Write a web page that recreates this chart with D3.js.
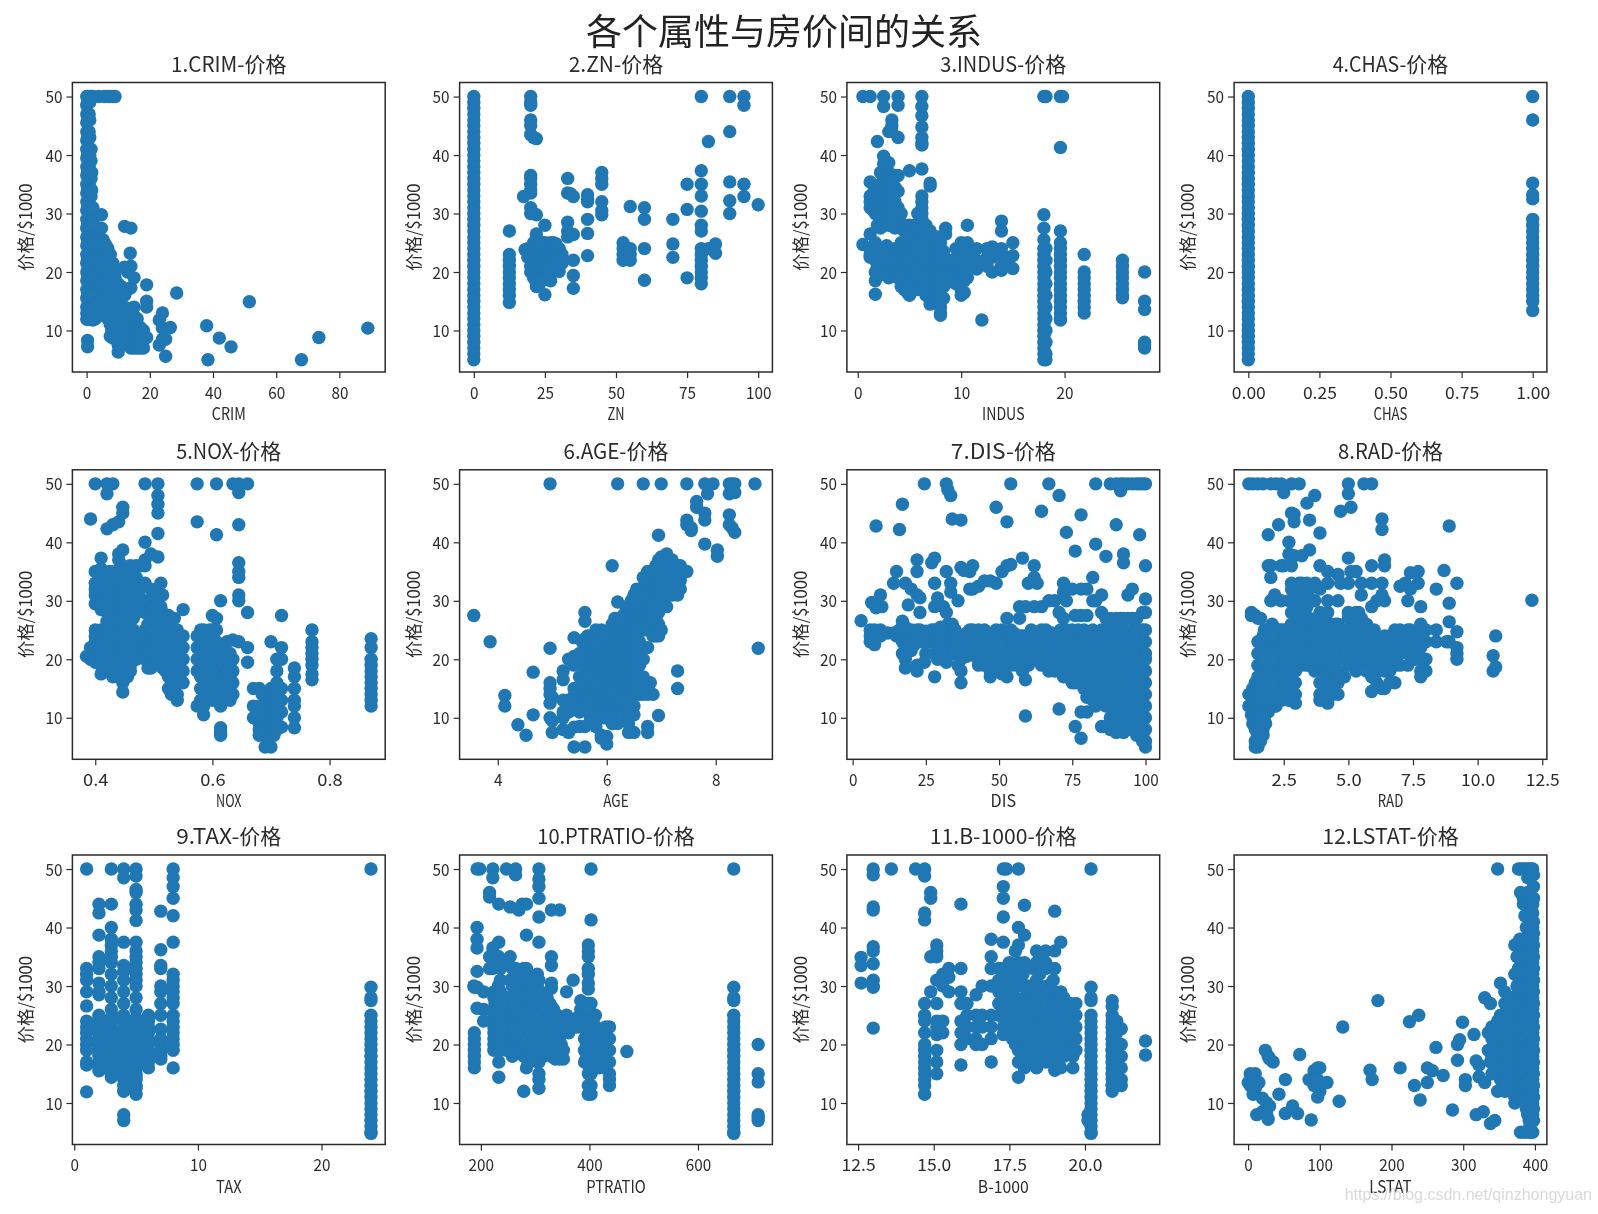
<!DOCTYPE html>
<html><head><meta charset="utf-8">
<script src="https://cdnjs.cloudflare.com/ajax/libs/d3/7.8.5/d3.min.js"></script>
<style>html,body{margin:0;padding:0;background:#fff}svg{display:block;filter:blur(.55px)}</style>
</head><body><svg id="c" width="1598" height="1214"></svg>
<script>
// Each row: x, then every price read at that x
const crimRows=[[0.05,11.9,13,14,15.5,17,18.5,20,21.5,23,24.5,26,27.5,29,30.5,32,33.5,35,36.5,38,39.5,41,42.5,44,45.5,47,48.5,50],[0.3,7.2,8.3,13,16,19,22,25,28,31,34,37,40,43,46,49,50],[0.8,11.9,14,17,20,23,26,29,32,35,38,41,44,47,50],[1.4,12,15,18,21,24,27,30,33,36,39,41,50],[2,11.8,14,17,20,23,26,29,31,50],[2.8,12,15,18,21,24,27],[3.3,13.5,16.5,19.5,22.5,25.5],[3.8,13,16,19,22,25,50],[4.3,14.5,17.5,20.5,23.5,25.5],[4.7,13.5,16,19,22,25.5,27.5,29.8],[5.2,14,17,20,23,25.5],[5.6,12.5,15,18,21,25,50],[6.2,13.5,16,19,22,24.5],[6.7,12,14,17,20,24,50],[7.2,13,15.5,18.5,21.5],[7.5,9,11,14,17,20,23,50],[8.3,8.7,11,13,16,19,21.5,50],[9,50,8.7,11,14,17,19],[9.6,10,12.5,15.5,18],[10,6.3,7.5,9.5,12,15,18],[11,7.5,9,11,13.5,16,17.5],[12,27.8,20.8,8,10,12,14,16],[13,7.5,9.5,11.5,13.5,17,20],[14,7,9,11,13,21,17.3,27.5],[13.8,23.2],[15,7,8.5,10.5,12.5,14,19],[16,7,8,10,12],[17,7,8.3,10.5],[18,7,8.3,10],[19,8.8,15,14,17.8],[23,7.5,11.8],[24,13,8.5,10.4],[25,5.6,8.5],[26.5,10.5],[28.5,16.4],[38,10.8],[38.4,5],[42,8.7],[45.7,7.2],[51.5,14.9],[68,5],[73.5,8.8],[89,10.4]];
const znRows=[[0,5,6,7,8,9,10,11,12,13,14,15,16,17,18,19,20,21,22,23,24,25,26,27,28,29,30,31,32,33,34,35,36,37,38,39,40,41,42,43,44,45,46,47,48,49,50],[12.5,14.8,16,17,18,19,20,21,22,23,27],[17.5,32.9],[18,23.8],[19,24,22.5],[20,50,49,48.5,46,45,43.5,36.5,36,35,34,33.5,31,30,24,21,20],[21,43,30,25,24,22.5,22,20,19],[22,42.8,29.8,26.5,25,24,23,21,19.5,18,17.5],[23,25,23.5,22,20.5,19,17.8],[24,25,23,21,19],[25,28,25,24,23,22,20,19,18.7,16.1],[26,24,22.5,20.5],[27,25,23.5,21.5,20,18.5],[28,25,24,23,22],[29,24.8,23,21.5],[30,24,23,22,20.1],[31,23,21.5],[33,36,33.5,28.5,27,26],[34,33.4],[35,32.9,26.4,22,19.4,17.2],[40,33.2,32.4,32,29,26.6,22.8],[45,37,36,35,32,30.5,29.8],[52.5,25,24,23,22],[55,31.2,24,23,22],[60,31,29,24,18.6],[70,29,24.8,22.5],[75,35,30.7,19],[80,50,37.3,35,33,30.4,28,27,24,23,22,21,20,19,18],[82.5,42.3,24],[85,24.8,23.2],[90,50,44,35.4,32.2,30],[95,50,48.5,35,32.9],[100,31.5]];
const indusRows=[[0.5,50,24.7],[1.2,50,35.4,33,32,31,26.5,24,23,22.5],[1.5,33.5,32.5,30.5],[1.7,34,31,30,25,22,20,18.5,16.2],[1.9,42.3,33,32,30,28,21],[2.2,37,35,33.5,31.5,29.5,27.5,23.5,21.5,19.5],[2.5,50,48.3,39.8,38.5,36,35,34,33,32,31,30,29,22],[2.8,36.5,34.5,32.5,30.5,28.5,24.5,20.5],[3,44,38.7,37,36,35,34,33,32,31,30,29,28,24,22,20,19],[3.3,46,45,44,36,33,31,30,28,23],[3.6,36.5,34.5,32,29.5,27.5,24,21.5,19.5],[3.9,50,48.5,43,36.5,33.8,31,29,24,22,19],[4.2,30,28,25,23.5,21.5,19.5,17.5],[4.5,28,27,24,22,20,18,17],[4.8,26,24.5,22.5,20.5,18.5,16.5],[5,37.3,28,26,24,22,20,18,16],[5.3,25.5,23.5,21.5,19.5,17.5],[5.5,28,24,22,20,18,17],[5.8,30,27,25,23,21,19,17],[6.2,50,48.3,46.7,44.8,43,42,41.7,37.6,33,32,31,30,29,27,25,23,21,19,17],[6.6,28,26,24,22,20,18,16],[7,35.2,34.7,27,25,23,21,19,17,14.5],[7.3,24.5,22.5,20.5,18.5,15.5],[7.5,26,24,22,20,18,16],[7.8,26,24,22,20,18,16],[8,25,23,21,19,17,15,14,13,12.6],[8.3,23.5,21.5,19.5,17.5,15.5],[8.5,27.5,26.5,22,20,18],[9,22,20,19],[9.5,24,22,20,18],[10,25,24,23,22,21,20,19,18,17,16],[10.3,24.5,22.5,20.5,18.5,16.5],[10.6,28,25,24,23,22,21,19],[11.5,24,22,20.5],[12.5,24,22.5,21],[12,11.8],[13,24.3,22.5,20],[13.9,28.7,27,24,23,21,20.3],[14.5,22.5,21.5],[15,25,22.8,20.6],[18,50,25.5,24,23,22,21,20,19,18,17,16,15,14,13,12,11,10,9,8,7,6,5,27.5,29.8],[18.2,50,24,22,20,18,16,14,12,10,8,6,5],[19.6,50,41.3,27,25,24,23,22,21,20,19,18,17,16,15,14,13,12,11.8],[19.8,50],[21.9,23,20,19,18,17,16,15,14,13],[25.6,22,21,20,19,18,17,16,15.6],[27.74,20,15,13.6,8,7.5,7]];
const chasRows=[[0,5,6,7,8,9,10,11,12,13,14,15,16,17,18,19,20,21,22,23,24,25,26,27,28,29,30,31,32,33,34,35,36,37,38,39,40,41,42,43,44,45,46,47,48,49,50],[1,50,46,35.2,33.2,32.5,29,28,27,26,25,24,23,22,21,20,19,18,17,16,15,13.4]];
const noxRows=[[0.385,20.5],[0.392,44,22,20],[0.4,50,35,33,32,31,29.5,25,24,23,22,21,20,19.5],[0.41,37.3,35.5,34,32,31,30,28.5,25,24,23,22,21,20,19,17.5],[0.42,50,48.3,42.3,33.5,32,30,28,26.5,25,24,23,22,21,20,19],[0.43,50,43,33,30,28,27,25,23,21,19,17],[0.435,35,32,29,26,24,22,20,18],[0.44,43.5,38,37,35,33,31,29,27,25,23,21,19,17],[0.447,46,45,38.7,36,32,30,28,26,24,22,20,18,16,14.4],[0.455,34,31,29,27,25,23,21,19,17],[0.46,36,33,29,25,23,21,19,18],[0.47,36,34,32,29,28,24,22,20],[0.478,36,33,29],[0.485,50,40,37,36,33,30,28,25,23,21,20],[0.49,26,24,22,20,18.5],[0.495,38,32,30,28,24,22,20,18.5],[0.5,31,29,27,25,23,21,19],[0.507,50,48,46.5,45,41.5,37.5,32,30,28,26,24,22,20],[0.515,31,28,24,22,20,18.5],[0.52,26,24,22,20,18],[0.525,27.5,25,23,21,19,17,15],[0.535,27,25,23,21,19,17,16,15,14],[0.54,25,23,20,18,16,14,13],[0.55,28.5,24,22,20,18,16],[0.574,50,43.5,24,22,20,18,12],[0.58,25,23,21,19,17,15,13],[0.585,25,23,21,19,17,15,13,12,10.5],[0.593,24,22,20,18,16,14],[0.6,27.5,25,23,21,19,17,15,13],[0.607,50,41.3,27,25,23,21,19,17,14],[0.614,30,16,14,12,8.3,7.5,7,20,18],[0.62,22,19,17,15,13],[0.625,20,18,16,14,23],[0.635,50,23.3,20,18,16,14],[0.645,50,48.5,43,36.5,35,34,31,30,23],[0.66,50,28,22,19.5],[0.67,15,12,10],[0.68,15,12,11,9,8,7],[0.685,14,12,10,8],[0.69,14,11,9,8,7,5],[0.7,23,15,13,11,9,7,5],[0.705,15,13,11,9,7],[0.71,18,20,16,14,12,10,8],[0.718,27.5,22,20,15,13,11,8.4],[0.74,18.5,17,15,13,12,10,8.3],[0.77,25,23,22,21,20,19,17.5,16.5],[0.871,23.5,22,20,19,18,17,16,15,14,13,12]];
const rmRows=[[3.56,27.5],[3.86,23],[4.13,13.8,12],[4.37,8.8],[4.52,7],[4.65,17.8,10.5],[4.96,50,21.9,16,15,14,12.5,10],[5,13.5,9.5,7.5],[5.2,18,16.5,13,11,10,8],[5.3,20,13,11,7.5],[5.4,23.7,20.5,19,15,13.8,12,8.4,5],[5.5,21,20,17,15,13,11,8.5],[5.55,23,19,16,14,12],[5.6,28,26.5,23.5,20,18,16,14,12,8.5,5],[5.65,24,22,19,17,15,13],[5.7,23.5,22,20,18,16,14,12,10],[5.75,24,21,19,17,15,13,11],[5.8,25,23,21,19,17,15,13,8.5],[5.85,24,22,20,18,16,14,12,10],[5.9,25,23,21,19,17,15,13,11,7,6.5],[5.95,24,22,20,18,16,14,12,10],[6,24.5,22.5,20.5,18.5,16.5,14.5,12.5,10,6.8,5.5],[6.05,25,23,21,19,17,15,13,11],[6.1,36,26,24,22,20,18,16,14,12,9],[6.15,27,25,23,21,19,17,15,13,11],[6.2,50,29.8,26,24,22,20,18,16,14,12,9],[6.25,27,25,23,21,19,17,15,13,11],[6.3,27.5,25,23,21,19,17,15,13,10.5],[6.35,29,27,25,23,21,19,17,15,13],[6.4,29,26,24,22,20,18,16,13,11,9,7.5],[6.45,30,28,26,24,22,20,18,16,14],[6.5,31,28,26,24,22,20,18,16,14,12,10.5,7.5],[6.55,32,29,27,25,23,21,19,17,15],[6.6,32,30,27,25,23,21,19,17,14],[6.67,50,34,31,29,27,25,22,20,17,15,14],[6.75,35,33,31,29,27,25,22,15,14,8.5,7.5],[6.8,32,30,28,26,16],[6.85,33,31,29,27,25,24,14],[6.9,36,34,32,30,27,24],[6.95,41.2,37,35,33,31,28,26,24,10.4],[7,50,37.5,34,31,29,25],[7.05,37,35,33,30],[7.1,38,36,34,32,29],[7.2,37,35,33,31],[7.3,36,34,31,18,15],[7.35,33.5,36,32],[7.47,50,43.8,43,35],[7.55,42.5,42],[7.65,46,47],[7.8,50,45,43.8,39.7],[7.85,48.3],[7.95,50],[8.03,37.6,38.7],[8.25,50,48.3,44.7,43],[8.3,50,49,42.5],[8.35,50,48.5,41.7],[8.72,50],[8.78,21.9]];
const ageRows=[[2.9,26.6],[6,25,24,23],[6.5,29.7],[7.5,25,24,23,22.5],[8,42.8,28.8,24],[9.5,31,25,24],[10,29],[12,24.5],[14,33,24.5],[15,35,24],[16,42.2,25],[17,46.5,26.5,25,23,21],[18,33,25.5,24,22,20,18.5],[19,29.3,24,22],[20,32,25,23,21.5],[22,37,35,31,25,24,19,18],[23,30.5,28,25,23],[24.5,50,19.5],[27,36.5,25,23],[28,37.3,33,29,25,23,21,17],[29,30.5,25,23,20],[31,29,25,24,22,20],[32,50,35,28,24,22,19.5],[32.5,49,26],[33.5,48,33,31.5,24,21],[34,44,26,23,21],[36,30,24,22,19],[37,43.8,35.7,24,22,20,18,16],[38,35.2,23,21],[40,35,32,25,23,21],[41,36,32,25,23,21],[43,32.5,25,23,21,19],[45,33.4,25,23,21,19],[47,33.4,24,22,20,18,17],[49,46,33,25,23,21,19],[51,35,25,23,21,17.5],[52.7,43.5,36,27,24,22,20,17],[54,50,36.2,25,23,21,19],[57,27,29,24,22,20],[58,37.3,24,22,20,18],[59,10.3,29,24,22,20,16.5],[60,33,23,21,19],[62,36,34,29,24,22,20],[63,33,24,22,20],[64.5,45.3,29,25,23,21,19],[67,50,30,24,22,20,18],[69,30,24,22,20,18],[70.5,48,11.5,28,24,22,20,18],[72,33,31.5,27,24,22,20,17],[73,41.7,30,25,23,21,19,17],[75,32,25,23,21,19,16],[76,38.5,8.5,27.5,24,22,20,16],[78,44.7,6.5,32,27.5,24,22,20,18,16,11],[80,32,27.5,24,22,20,18,16,13.5,11],[82,34,30,25,23,21,19,17,15,13],[83,50,39.7,30,24,22,20,18,16,14,12],[85,31,28,25,23,21,19,17,15,13,8.5],[86.5,37.6,27,24,22,20,18,16,14,12,8.5],[88,50,27,25,23,21,19,17,15,13,10,8],[90,50,43,27,25,23,21,19,17,15,13,11,9,7.5],[91.5,48.8,50,27,24,22,20,18,16,14,12,10,8],[92.5,50,38,36.5,27,25,23,21,19,17,15,13,11,9,7.5],[94,50,31,27,24,22,20,18,16,14,12,10,8],[95.5,50,32,27,25,23,21,19,17,15,13,11,9],[97,50,27,24,22,20,18,16,14,12,10,8,7],[98,41.3,50,25,23,21,19,17,15,13,11,9,7],[99,50,28,25,23,21,19,17,15,13,11,9,7,6],[100,50,36,30.3,28,25,23,21,20,18,16,14,12,10,8,6,5]];
const disRows=[[1.15,50,14,12],[1.25,28,27.5,14,12,10.5],[1.3,50,15,13,11,9],[1.4,27.5,16,14,12,10,8,6,5],[1.5,50,27,23,21,19,17,15,13,11,9,7,5],[1.6,27,23,21,19,17,15,13,11,9,7,6],[1.7,50,24,22,20,18,16,14,12,10,8,7],[1.8,25,23,21,19,17,15,13,11,9],[1.9,41.3,36,23,21,19,17,15,13,11],[2,50,36,34,30,25,23,21,19,17,15,13,12],[2.15,31,30.3,25,23,21,19,17,15,13,12],[2.2,50,25,22,20,18,16,14,12],[2.3,43,25,23,21,19,17,15,13],[2.4,50,36,30,25,23,21,19,17,15,13],[2.5,48.5,36,25,23,21,19,17,15,14],[2.7,40,38,30,25,23,21,19,17,15,14,13],[2.8,50,45,36,33,32,28,26,24,22,20],[2.9,44.8,43.5,37.7,30,26,24,22,20],[3.1,50,33,31,29,27,25,23,21,19],[3.2,37.7,33,30,28,25,23,21,19],[3.4,46.7,33,31,29,25,23,21,19],[3.5,43.8,38.7,32,30,27,25,23,21,19],[3.7,48,33,30,25,23,21,18],[3.9,41.6,36,32,28,25,23,21,19,16,14,13],[4.05,24,22,20,18,16,14],[4.2,35,33,30,28,25,23,21,19,17,15,13,12.5],[4.4,24,22,20,18,16,14],[4.6,34.5,30,26,24,22,20,18,16,14],[4.7,45.3,33,25,23,21,17],[4.85,24,22,20,17],[5,50,48.3,37.3,33,28,27,25,23,21,19],[5.1,46,35,25,23,21,19],[5.3,35,28,26,24,22,20,18],[5.5,33,31,27,25,23,21,19],[5.6,50],[5.9,50,36,33,29,24,21,17,14.5],[6.1,30,24,22,20,18,16],[6.3,44,42.2,33,31,23,21,19,15],[6.4,37,36,30,24,22,20,18,15],[6.8,25,23,21,19,16],[7,32.5,25,23,21,19],[7.2,33,24,22],[7.3,30,25,23,21,19],[7.4,34.8,32,25,23],[7.7,35,33,25,23,21],[7.8,29,26,24,22,20,18,17],[8.4,32,25,23],[8.8,23],[8.7,35.2],[8.9,42.8,29.6,26.4,23],[9.2,33,24.7,22,21,20],[10.6,20.6,18],[10.7,24,18.7],[12.1,30.1]];
const radRows=[[1,50,33,32,31,29,26.6,24,23,22,21,20,19,17,16.5,11.9],[2,44,42.5,38.7,35,34,33,30.5,29,28.5,25,24,23.2,22,21,20,19,18,17,16,15.5],[3,50,44,40,38,37,36,35,34,32,30,28,26,24,23,22,21,20,19,18,17,16,14.4],[4,50,48.5,37.5,33.5,32.5,31,29,27,25,24,23,22,21,20,19,18,17,16,15,14,13,12,8,7],[5,50,48.8,46.5,46,44,43,41.2,37.5,36,35,34,33,32,31,30,28,26,24,23,22,21,20,19,18,17,16,15,14,13,11.5],[6,25,24,23,22,21,20,19,18,17,16],[7,42.8,36.2,33.5,33,30,29,27,25,22.6,21,20,19,18,17.5],[8,50,48.5,47,45,42,37.5,32,31,30,29,28,27,25,24,23,22,21,20,19,16],[24,50,29.8,28,27.5,25,24,23,22,21,20,19,18,17,16,15,14,13,12,11,10,9,8,7,6,5,4.8]];
const taxRows=[[187,30],[188,29.8,22,21,20,19,18,17,16],[193,50,40,38,36.5,32.5,29.8,26.2],[198,50],[216,46,45.2,35,33],[222,50,48.5,36.5,35,33],[224,29,28,26,25,24,23,22,21,20,19],[226,27,25,23,21,20],[233,44,37.5,35,24,22,20,17,14.4],[242,28,27,25,23,21,20],[247,50,34,28,25,24,22,20,19],[254,43.5,35,31,28,26,24,22,20],[264,50,49,33,31,29,25,23,21,20],[270,43,30,28,25,23,21,19],[276,44,29,25,23,21,19],[279,12,33,24,22,20,18],[284,44,38.7,33,29,24,22,20,18,16],[289,29,32,25,23,21,19],[296,29,24,22,20,18],[300,30,28,26,24,22,20,18],[304,32,30,27,25,23,21,19,17],[307,50,48.3,47,45,41.8,37.5,31,29,27,25,23,21,19,17,15,14,12.5],[311,26,24,22,20,18],[315,24,22,20,18],[322,28,25,23,21,19],[330,43,35,33.5,30.5,29.6,26.5,24,22,20,18],[337,23,21,19,17.5],[345,43,23,21,19,17.5],[352,24,22,19,17.5],[370,31,24],[358,29,25,23],[384,27.5,26,24,23],[391,27,24,21,19,17],[398,37,36,35,33,32,30.5,29.5,27,25,23,21,19,17,15,13,11.5],[403,50,41.3,27,25,23,21,19,17,15,13,11.5],[411,18,21,23,25],[425,21,19,17],[430,23,21,19,17,16],[437,23,21,19,17,15,14,13],[469,18.8],[666,50,29.8,28,27.5,25,24,23,22,21,20,19,18,17,16,15,14,13,12,11,10,9,8,7,6,5,4.8],[711,20,15,13.6,8,7.5,7]];
const ptRows=[[12.6,34.9,33.5,30.5],[13,50,49,43.5,43,36.7,36,33.8,31,30,29.8,22.8],[13.6,50],[14.4,50],[14.7,50,48.8,42.5,41.3,27,25,24,22,20,19,18,17,16,15,14,13,11.5],[14.9,46,45,35,29],[15.1,37,36,35,31,27,24,23,21.7,19,17,15],[15.3,32,30,24,22],[15.5,33,31.5,29],[15.9,44,33,29,27,24,22,20,16.5],[16.1,27,25,23,21],[16.4,28.5,25,23,21,20],[16.6,30,25,23,20],[16.9,38,35,33,30,25,23,21,17],[17.3,50,47,45,41.8,37.5,33,31,29,27,25,23,21.7],[17.4,50,30,28,26,24],[17.6,33,31,29,27,25,23,21],[17.8,50,40,37,34,30,27,25,23,21,19,17,14.4],[18,43.8,38.7,34,28,25,23,21,19,16],[18.2,29,26,24,22,20,18],[18.4,36,34,31,28,25,23,21,19,17,16],[18.55,27,24,22,20,18],[18.7,36,34,33,28,25,23,21,19,17],[18.85,29,26,24,22,20,18],[19,42.8,36,33,29,25,23,21,19,17,15.6],[19.2,37.5,29,27,25,23,21,19,16],[19.4,25,23,21,19],[19.6,26,24,22,20,18,16],[19.7,27,25,23,21,19],[20.2,50,29.8,28,27.5,25,24,23,22,21,20,19,18,17,16,15,14,13,12,11,10,9,8,7,6,5,4.8],[20.1,8,7],[20.9,27.5,26.5,24,23,22,21,20,19,18,17,16,15,14,13,12],[21,23.5,20,18,16,14,13],[21.2,22.7,20,18,16,14,13],[22,20.6,18.2]];
const bRows=[[0.3,13.5],[3,15,13],[7,14.5,11.5],[10,15,12.5],[12,8],[15,13.5],[20,8.5,10.8],[24,19],[26,8,10],[28,7.2,18],[30,9.5,17.5],[35,17],[43,11.5],[52,14,8.2],[62,9.5],[69,8.2],[72,18.3],[85,14],[88,7.1],[92,13,15.5],[97,11,14,16],[100,12,16],[110,13.5],[127,10.3],[132,23],[170,15.6],[173,14],[181,27.5],[212,16],[225,23.9],[232,13],[238,25],[240,10.5],[250,13.5,16],[257,15.5],[262,19.5],[272,14.7],[285,8.8],[292,20,17.3],[295,20.8],[299,23.8],[303,14,13],[315,21.7],[318,17.2,8],[322,14.5,16.5],[328,8.5],[330,28,13.5],[335,22,19],[338,27,6.5,17],[344,7,19,15.5],[348,50,24,21,17,15,12],[352,30.5,25,22,18,16,14],[358,29,27,24,20,18,16,14,12],[365,25,22,20,18,16,13],[372,37,32,24,22,20,18,16,14,11,10],[377,50,33,29,26,24,22,20,18,16,14,12],[380,50,46,36,30,28,26,24,22,20,18,16,14,12,5],[384,50,45,44,35,33,30,27,25,23,21,19,17,15,13,11],[386,50,42,38,34,31,28,26,24,22,20,18,16,14,12,5],[390,50,48.5,46,36,33,30,28,26,24,22,20,18,16,14,12,10,8],[392,50,44,37,33,29,27,25,23,21,19,17,15,13,11,9,7,5],[395,50,43,40,38,36,34,32,30,28,26,24,22,20,18,16,14,12,10,8],[396.9,50,44,42.5,40,38,36,34,32,30,28,26,24,22,20,18,16,14,12,10,9,8,7,5]];
// Further prices read inside the solid parts of the crowded panels
const ageFill=[[21,24.5,23.5,22.5],[25,24.8,22.8,21],[30,25.5,23.5,21.5],[35,25,23.5,21.5],[39,24.5,22.5,20.5],[42,24.5,22.5,20.5],[46,24.5,22.5,20.5],[50,24.5,22.5,20.5,18.5],[55,24.5,22.5,20.5],[56,24,22,19],[61,25,23,21],[66,25,23,21,19],[68,24.5,22.5,20.5],[71,25,23,21,19],[74,24,22,20,18],[77,25,23,21,19,17],[79,25,23,21,19,17,15],[81,24,22,20,18,16,14],[84,24,22,20,18,16,14],[87,25,23,21,19,17,15,13],[89,24,22,20,18,16,14,12,10],[93,24,22,20,18,16,14,12,10],[96,24,22,20,18,16,14,12,10,8]];
const disFill=[[1.75,25,22,19.5,17,15,12.5,10],[2.05,26,24,21.5,19.5,17.5,15.5,13.5],[2.6,25,23.5,21.5,19.5,17.5,15.5],[2.95,25,23,21,18,16,14,12.5],[3.3,26,24,22,20],[3.6,26,24,22,20],[3.8,26,24,22,20],[4.1,26,24,22,20],[4.3,26,24,22,20],[4.5,26,24,22,20],[4.95,25,23,21],[5.2,27,25,23,21],[5.4,28,25,22,20],[5.7,26,24,22,20,18],[6,25,23,21,19,17],[6.6,24,22,20,18,16],[7.6,24,22,20],[8,25,23,20,18]];
const radFill=[[2,24.5,23.5,22.5,20.5,18.5,16.5],[2.5,24,22,20,18,16],[3,24.5,22.5,20.5,18.5,16.5,15],[3.5,24.5,22,20,18,16],[4,24.5,22.5,20.5,18.5,16.5,14.5],[4.5,24,22,20,18,16,14],[5,24.5,22.5,20.5,18.5,16.5,14.5,12.5],[5.5,24,22,20,18],[6,24.5,22.5,20.5,18.5]];
const taxFill=[[205,29,26,24],[232,30,28,26,24,22,20],[236,33,31,29,27,25,23,21,19],[258,33,30,28,26,24,22,20,18],[262,27,25,23,21,19],[273,32,27,25,23,21,19],[281,31,28,26,24,22,20,18],[287,27,25,23,21,19,17],[293,30,28,26,24,22,20,18],[298,27,25,23,21,19],[310,29,27,25,23,21,19],[318,26,24,22,20],[327,27,25,23,21,19],[334,26,24,22,20],[341,25,23,21,19],[348,24,22,20,18],[362,24,22],[376,24.5,23],[395,24,22,20,18],[400,26,24,22,20,18,16],[407,24,22,20,18],[418,22,20,18,16]];
const ptFill=[[17.15,33,31,29,27,25],[17.5,34,32,30,28,26,24,22],[17.7,36,32,28,26,24,22,20],[17.95,32,30,27,25,23,21,19,18],[18.1,30,27,25,23,21,19,17],[18.3,33,30,27,25,23,21,19,17],[18.5,35,32,29,25,23,21,19,17],[18.65,29,26,24,22,20,18],[18.75,30,27,25,23,21,19],[18.95,31,27,24,22,20,18],[19.1,27,25,23,21,19,17],[19.3,28,26,24,22,20,18],[19.5,27,25,23,21,19],[19.65,25,23,21,19],[20.9,25,23,21,19,17,15,13],[21.05,24,22,20,18,16,14]];
const bFill=[[362,26,23,21,19,17,15,13],[368,28,24,22,20,18,16,14,12],[375,35,30,27,25,23,21,19,17,15,13,11],[379,38,31,27,25,23,21,19,17,15,13,11],[382,32,29,27,25,23,21,19,17,15,13,11],[388,40,35,32,29,27,25,23,21,19,17,15,13,11,9],[393,38,35,32,30,28,26,24,22,20,18,16,14,12,10,8,6],[398,49,47,45,41,39,37,35,33,31,29,27,25,23,21,19,17,15,13,11,9,7],[340,15,18,21,23]];
const crimFill=[[1,12,13.5,16,19,22,25,28,31,34,37,40,43,46,49],[1.6,13,16,19,22,25,28,31,34,37],[2.4,13.5,16,19,22,25,28],[4,12.8,24,21,18,15],[5,24.5,21.5,18.5,15.5],[6,24,21,18,15],[7,22.5,19.5,16.5,13.5],[8,20,18,15,12,10],[9,20,16,13,10],[10.5,17,14,11,8.5],[11.5,16,13,10,8]];
const noxFill=[[0.425,35,31,28.5,26,24,22,20,18],[0.45,35,33,31,29,27,25,23,21,19],[0.465,34,32,30,27,25,22,20],[0.475,32,31,30,28.5],[0.512,33,29,27,25,23,21,19],[0.53,24,22,20,18,16,14],[0.595,25,23,21,19,17,15],[0.63,21,19,17,15,13]];

const priceTicks=[10,20,30,40,50];
const priceDomain=[2.9,52.4];
const mainTitle="各个属性与房价间的关系";
const priceLabel="价格/$1000";
const watermark="https://blog.csdn.net/qinzhongyuan";
const panelNames=["1.CRIM-价格","2.ZN-价格","3.INDUS-价格","4.CHAS-价格","5.NOX-价格","6.AGE-价格","7.DIS-价格","8.RAD-价格","9.TAX-价格","10.PTRATIO-价格","11.B-1000-价格","12.LSTAT-价格"];
const axisNames=["CRIM","ZN","INDUS","CHAS","NOX","AGE","DIS","RAD","TAX","PTRATIO","B-1000","LSTAT"];
const rowsByPanel=[crimRows.concat(crimFill),znRows,indusRows,chasRows,noxRows.concat(noxFill),rmRows,ageRows.concat(ageFill),disRows.concat(disFill),radRows.concat(radFill),taxRows.concat(taxFill),ptRows.concat(ptFill),bRows.concat(bFill)];
const xDomains=[[-4.5,94.5],[-5,105],[-1.05,29.2],[-0.05,1.05],[0.361,0.895],[3.3,9.04],[-1.955,104.855],[0.58,12.68],[-0.15,25.15],[160.8,737.2],[12.13,22.47],[-19.5,416.7]];
const xTickValues=[[0,20,40,60,80],[0,25,50,75,100],[0,10,20],[0,0.25,0.5,0.75,1],[0.4,0.6,0.8],[4,6,8],[0,25,50,75,100],[2.5,5,7.5,10,12.5],[0,10,20],[200,400,600],[12.5,15,17.5,20],[0,100,200,300,400]];
const xTickFormats=[".0f",".0f",".0f",".2f",".1f",".0f",".0f",".1f",".0f",".0f",".1f",".0f"];

const colLeft=[72.4,459.6,846.9,1234.1], rowTop=[82.5,469.8,855], W=312.8, H=289.5;
const BLUE="#1f77b4", INK="#2b2b2b";
const CJK="'Noto Sans CJK SC','Noto Sans CJK JP',sans-serif";
const svg=d3.select("#c");

// SimHei-like text: half-width Latin cells beside full-width CJK
function mixed(sel,str,em){
  sel.text(null).attr("font-family",CJK).attr("font-size",em).attr("fill",INK);
  (str.match(/[\x00-\x7f]+|[^\x00-\x7f]+/g)||[]).forEach(run=>{
    const t=sel.append("tspan").text(run);
    if(/^[\x00-\x7f]/.test(run)) t.attr("textLength",run.length*em/2).attr("lengthAdjust","spacingAndGlyphs");
  });
}

svg.append("text").attr("x",784).attr("y",45).attr("text-anchor","middle").attr("font-family",CJK).attr("font-size",36).attr("fill","#222").text(mainTitle);

panelNames.forEach((name,i)=>{
  const L=colLeft[i%4],T=rowTop[Math.floor(i/4)];
  const g=svg.append("g").attr("transform",`translate(${L},${T})`);
  const x=d3.scaleLinear().domain(xDomains[i]).range([0,W]);
  const y=d3.scaleLinear().domain(priceDomain).range([H,0]);
  const pts=rowsByPanel[i].flatMap(r=>r.slice(1).map(v=>[r[0],v]));
  g.append("g").selectAll("circle").data(pts).join("circle")
    .attr("cx",d=>x(d[0])).attr("cy",d=>y(d[1])).attr("r",6.7).attr("fill",BLUE);
  const ax=g.append("g").attr("transform",`translate(0,${H})`)
    .call(d3.axisBottom(x).tickValues(xTickValues[i]).tickFormat(d3.format(xTickFormats[i])).tickSize(6));
  const ay=g.append("g").call(d3.axisLeft(y).tickValues(priceTicks).tickFormat(d3.format("d")).tickSize(6));
  [ax,ay].forEach(a=>{a.select(".domain").remove();a.selectAll("line").attr("stroke",INK).attr("stroke-width",1.2);});
  ax.selectAll("text").each(function(d){const s=d3.select(this),t=s.text();
    s.attr("y",26.5).attr("dy",null).attr("text-anchor","middle");mixed(s,t,17);});
  ay.selectAll("text").each(function(d){const s=d3.select(this),t=s.text();
    s.attr("x",-10).attr("dy","0.36em").attr("text-anchor","end");mixed(s,t,17);});
  g.append("rect").attr("width",W).attr("height",H).attr("fill","none").attr("stroke",INK).attr("stroke-width",1.5);
  g.append("text").attr("x",W/2).attr("y",-11).attr("text-anchor","middle").call(mixed,name,21);
  g.append("text").attr("x",W/2).attr("y",H+48).attr("text-anchor","middle").call(mixed,axisNames[i],17);
  g.append("text").attr("transform",`translate(-40,${H/2}) rotate(-90)`).attr("text-anchor","middle").call(mixed,priceLabel,17.5);
});
svg.append("text").attr("x",1592).attr("y",1200).attr("text-anchor","end").attr("font-family","'Liberation Sans',sans-serif").attr("font-size",16).attr("fill","#d9d9d9").text(watermark);
</script></body></html>
